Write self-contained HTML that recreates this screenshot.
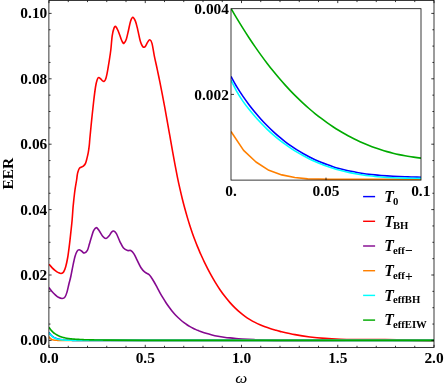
<!DOCTYPE html>
<html><head><meta charset="utf-8"><title>EER plot</title>
<style>html,body{margin:0;padding:0;background:#fff;}body{width:444px;height:387px;overflow:hidden;}svg{display:block;}text{font-family:"Liberation Serif",serif;font-weight:bold;fill:#000;}.t{font-size:15.4px;}.s{font-size:10.7px;}.T{font-size:15.7px;font-style:italic;}.o{font-size:13.6px;}.i{font-style:italic;}</style></head><body>
<svg width="444" height="387" viewBox="0 0 444 387">
<rect x="0" y="0" width="444" height="387" fill="#ffffff"/>
<defs><clipPath id="cm"><rect x="48.90" y="0.50" width="385.10" height="346.90"/></clipPath>
<clipPath id="ci"><rect x="231.00" y="8.70" width="190.00" height="171.70"/></clipPath><filter id="gs" x="0" y="0" width="444" height="387" filterUnits="userSpaceOnUse" color-interpolation-filters="sRGB"><feColorMatrix type="saturate" values="0"/></filter></defs>
<g fill="none" stroke-width="1.60" stroke-linejoin="round" clip-path="url(#cm)">
<path d="M49.00 332.55 C49.25 332.88 49.99 333.96 50.48 334.54 C50.97 335.12 51.47 335.59 51.96 336.03 C52.46 336.46 52.95 336.81 53.44 337.13 C53.94 337.46 54.43 337.72 54.92 337.96 C55.42 338.20 55.91 338.40 56.40 338.58 C56.90 338.76 57.39 338.91 57.88 339.04 C58.38 339.18 58.87 339.29 59.37 339.39 C59.86 339.49 60.35 339.57 60.85 339.64 C61.34 339.72 61.83 339.78 62.33 339.83 C62.82 339.89 63.31 339.94 63.81 339.98 C64.30 340.02 64.79 340.05 65.29 340.08 C65.78 340.12 66.28 340.14 66.77 340.16 C67.26 340.19 67.76 340.21 68.25 340.22 C68.74 340.24 69.24 340.26 69.73 340.27 C70.22 340.28 70.72 340.29 71.21 340.30 C71.71 340.31 72.20 340.32 72.69 340.33 C73.19 340.33 73.68 340.34 74.17 340.35 C74.67 340.35 75.16 340.36 75.65 340.36 C76.15 340.36 76.64 340.37 77.13 340.37 C77.63 340.37 78.12 340.38 78.62 340.38 C79.11 340.38 79.60 340.38 80.10 340.38 C80.59 340.38 81.08 340.39 81.58 340.39 C82.07 340.39 82.56 340.39 83.06 340.39 C83.55 340.39 84.04 340.39 84.54 340.39 C85.03 340.39 85.53 340.39 86.02 340.39 C86.51 340.40 87.01 340.40 87.50 340.40 C87.99 340.40 88.49 340.40 88.98 340.40 C89.47 340.40 89.97 340.40 90.46 340.40 C90.96 340.40 91.45 340.40 91.94 340.40 C92.44 340.40 92.93 340.40 93.42 340.40 C93.92 340.40 94.41 340.40 94.90 340.40 C95.40 340.40 95.89 340.40 96.38 340.40 C96.88 340.40 97.37 340.40 97.87 340.40 C98.36 340.40 98.85 340.40 99.35 340.40 C99.84 340.40 100.33 340.40 100.83 340.40 C101.32 340.40 101.81 340.40 102.31 340.40 C102.80 340.40 103.29 340.40 103.79 340.40 C104.28 340.40 104.78 340.40 105.27 340.40 C105.76 340.40 100.09 340.40 106.75 340.40 C113.41 340.40 122.79 340.40 145.25 340.40 C167.71 340.40 193.38 340.40 241.50 340.40 C289.62 340.40 401.92 340.40 434.00 340.40" stroke="#0000ff"/>
<path d="M49.00 264.20 C49.53 264.82 51.15 266.83 52.20 267.90 C53.25 268.97 54.27 269.82 55.30 270.60 C56.33 271.38 57.43 272.12 58.40 272.60 C59.37 273.08 60.23 273.60 61.10 273.50 C61.97 273.40 62.83 273.12 63.60 272.00 C64.37 270.88 65.02 269.22 65.70 266.80 C66.38 264.38 67.08 261.12 67.70 257.50 C68.32 253.88 68.88 249.23 69.40 245.10 C69.92 240.97 70.35 236.85 70.80 232.70 C71.25 228.55 71.73 224.32 72.10 220.20 C72.47 216.08 72.75 211.05 73.00 208.00 C73.25 204.95 73.37 204.15 73.60 201.90 C73.83 199.65 74.13 196.75 74.40 194.50 C74.67 192.25 74.83 190.82 75.20 188.40 C75.57 185.98 76.27 182.15 76.60 180.00 C76.93 177.85 76.98 176.83 77.20 175.50 C77.42 174.17 77.52 173.23 77.90 172.00 C78.28 170.77 78.90 168.92 79.50 168.10 C80.10 167.28 80.82 167.48 81.50 167.10 C82.18 166.72 82.93 166.43 83.60 165.80 C84.27 165.17 84.95 164.50 85.50 163.30 C86.05 162.10 86.43 160.42 86.90 158.60 C87.37 156.78 87.90 154.63 88.30 152.40 C88.70 150.17 89.03 147.60 89.30 145.20 C89.57 142.80 89.50 142.27 89.90 138.00 C90.30 133.73 91.07 125.77 91.70 119.60 C92.33 113.43 93.05 106.52 93.70 101.00 C94.35 95.48 95.03 90.02 95.60 86.50 C96.17 82.98 96.58 81.40 97.10 79.90 C97.62 78.40 98.07 77.62 98.70 77.50 C99.33 77.38 100.27 78.65 100.90 79.20 C101.53 79.75 102.00 80.43 102.50 80.80 C103.00 81.17 103.42 81.57 103.90 81.40 C104.38 81.23 104.88 81.07 105.40 79.80 C105.92 78.53 106.35 77.05 107.00 73.80 C107.65 70.55 108.67 64.27 109.30 60.30 C109.93 56.33 110.32 54.08 110.80 50.00 C111.28 45.92 111.67 39.45 112.20 35.80 C112.73 32.15 113.42 29.65 114.00 28.10 C114.58 26.55 115.02 26.07 115.70 26.50 C116.38 26.93 117.27 28.80 118.10 30.70 C118.93 32.60 120.02 36.10 120.70 37.90 C121.38 39.70 121.65 40.60 122.20 41.50 C122.75 42.40 123.30 43.73 124.00 43.30 C124.70 42.87 125.67 41.00 126.40 38.90 C127.13 36.80 127.72 33.62 128.40 30.70 C129.08 27.78 129.77 23.62 130.50 21.40 C131.23 19.18 131.97 17.40 132.80 17.40 C133.63 17.40 134.68 19.37 135.50 21.40 C136.32 23.43 136.95 26.50 137.70 29.60 C138.45 32.70 139.37 37.53 140.00 40.00 C140.63 42.47 141.07 43.33 141.50 44.40 C141.93 45.47 142.18 45.92 142.60 46.40 C143.02 46.88 143.50 47.37 144.00 47.30 C144.50 47.23 145.02 46.82 145.60 46.00 C146.18 45.18 146.80 43.43 147.50 42.40 C148.20 41.37 149.05 39.63 149.80 39.80 C150.55 39.97 151.25 40.73 152.00 43.40 C152.75 46.07 153.40 51.36 154.30 55.80 C155.20 60.24 156.47 65.67 157.40 70.07 C158.33 74.47 159.07 78.08 159.90 82.21 C160.73 86.35 161.57 90.53 162.40 94.86 C163.23 99.19 164.07 103.66 164.90 108.20 C165.73 112.73 166.57 117.39 167.40 122.06 C168.23 126.73 169.07 131.50 169.90 136.23 C170.73 140.96 171.57 145.77 172.40 150.44 C173.23 155.10 174.07 159.77 174.90 164.21 C175.73 168.64 176.57 172.97 177.40 177.05 C178.23 181.13 179.07 184.99 179.90 188.68 C180.73 192.37 181.57 195.86 182.40 199.21 C183.23 202.56 184.07 205.74 184.90 208.81 C185.73 211.87 186.57 214.79 187.40 217.61 C188.23 220.43 189.07 223.11 189.90 225.70 C190.73 228.29 191.57 230.76 192.40 233.15 C193.23 235.54 194.07 237.82 194.90 240.02 C195.73 242.23 196.57 244.34 197.40 246.40 C198.23 248.45 199.47 251.31 199.90 252.34 C200.33 253.36 199.15 250.72 200.00 252.56 C200.85 254.41 203.33 259.97 205.00 263.40 C206.67 266.83 208.33 270.07 210.00 273.16 C211.67 276.24 213.33 279.15 215.00 281.91 C216.67 284.67 218.33 287.26 220.00 289.71 C221.67 292.15 223.33 294.44 225.00 296.60 C226.67 298.75 228.33 300.75 230.00 302.63 C231.67 304.51 233.33 306.25 235.00 307.88 C236.67 309.51 238.33 311.00 240.00 312.40 C241.67 313.81 243.33 315.09 245.00 316.29 C246.67 317.48 248.33 318.57 250.00 319.59 C251.67 320.61 253.33 321.53 255.00 322.39 C256.67 323.26 258.33 324.04 260.00 324.77 C261.67 325.50 263.33 326.15 265.00 326.77 C266.67 327.40 268.33 327.96 270.00 328.49 C271.67 329.03 273.33 329.52 275.00 330.00 C276.67 330.47 276.67 330.57 280.00 331.35 C283.33 332.12 290.00 333.71 295.00 334.64 C300.00 335.57 305.00 336.31 310.00 336.94 C315.00 337.57 320.00 338.03 325.00 338.42 C330.00 338.81 335.00 339.05 340.00 339.25 C345.00 339.45 350.00 339.54 355.00 339.61 C360.00 339.68 365.00 339.67 370.00 339.67 C375.00 339.67 374.33 339.45 385.00 339.61 C395.67 339.77 425.83 340.47 434.00 340.64" stroke="#ff0000"/>
<path d="M49.00 287.60 C49.53 288.28 51.15 290.50 52.20 291.70 C53.25 292.90 54.27 293.87 55.30 294.80 C56.33 295.73 57.25 296.68 58.40 297.30 C59.55 297.92 61.08 298.57 62.20 298.50 C63.32 298.43 64.28 298.03 65.10 296.90 C65.92 295.77 66.48 293.77 67.10 291.70 C67.72 289.63 68.18 287.03 68.80 284.50 C69.42 281.97 70.12 279.62 70.80 276.50 C71.48 273.38 72.20 269.13 72.90 265.80 C73.60 262.47 74.32 258.92 75.00 256.50 C75.68 254.08 76.32 252.43 77.00 251.30 C77.68 250.17 78.30 249.70 79.10 249.70 C79.90 249.70 80.93 250.75 81.80 251.30 C82.67 251.85 83.37 253.17 84.30 253.00 C85.23 252.83 86.55 251.78 87.40 250.30 C88.25 248.82 88.72 246.33 89.40 244.10 C90.08 241.87 90.80 239.13 91.50 236.90 C92.20 234.67 92.80 232.25 93.60 230.70 C94.40 229.15 95.37 227.60 96.30 227.60 C97.23 227.60 98.10 229.22 99.20 230.70 C100.30 232.18 101.77 235.20 102.90 236.50 C104.03 237.80 104.97 238.62 106.00 238.50 C107.03 238.38 108.17 236.87 109.10 235.80 C110.03 234.73 110.83 232.88 111.60 232.10 C112.37 231.32 112.90 230.83 113.70 231.10 C114.50 231.37 115.35 231.92 116.40 233.70 C117.45 235.48 118.82 239.42 120.00 241.80 C121.18 244.18 122.23 246.55 123.50 248.00 C124.77 249.45 126.40 250.08 127.60 250.50 C128.80 250.92 129.67 249.98 130.70 250.50 C131.73 251.02 132.73 252.00 133.80 253.60 C134.87 255.20 135.90 257.73 137.10 260.10 C138.30 262.47 139.70 265.78 141.00 267.80 C142.30 269.82 143.60 271.12 144.90 272.20 C146.20 273.28 147.78 273.51 148.80 274.30 C149.82 275.09 150.13 275.69 151.00 276.93 C151.87 278.17 153.00 280.01 154.00 281.73 C155.00 283.45 156.00 285.40 157.00 287.24 C158.00 289.08 159.00 291.00 160.00 292.79 C161.00 294.57 162.00 296.30 163.00 297.95 C164.00 299.60 165.00 301.18 166.00 302.70 C167.00 304.21 168.00 305.65 169.00 307.03 C170.00 308.40 171.00 309.70 172.00 310.93 C173.00 312.17 174.00 313.33 175.00 314.42 C176.00 315.52 177.00 316.55 178.00 317.52 C179.00 318.49 180.00 319.39 181.00 320.25 C182.00 321.10 183.00 321.90 184.00 322.65 C185.00 323.40 186.00 324.10 187.00 324.76 C188.00 325.42 189.00 326.03 190.00 326.60 C191.00 327.18 192.00 327.71 193.00 328.22 C194.00 328.72 195.00 329.19 196.00 329.63 C197.00 330.08 198.33 330.61 199.00 330.89 C199.67 331.16 198.83 330.87 200.00 331.28 C201.17 331.68 204.00 332.71 206.00 333.33 C208.00 333.94 210.00 334.47 212.00 334.95 C214.00 335.44 216.00 335.85 218.00 336.22 C220.00 336.59 222.00 336.91 224.00 337.19 C226.00 337.47 228.00 337.71 230.00 337.92 C232.00 338.14 234.00 338.31 236.00 338.48 C238.00 338.65 240.00 338.79 242.00 338.93 C244.00 339.07 246.00 339.19 248.00 339.31 C250.00 339.43 252.00 339.54 254.00 339.65 C256.00 339.75 256.50 339.80 260.00 339.92 C263.50 340.05 270.00 340.32 275.00 340.40 C280.00 340.48 285.83 340.40 290.00 340.40 C294.17 340.40 290.00 340.43 300.00 340.40 C310.00 340.37 327.67 340.20 350.00 340.20 C372.33 340.20 420.00 340.37 434.00 340.40" stroke="#850a90"/>
<path d="M49.00 336.80 C49.25 337.11 49.99 338.21 50.48 338.67 C50.97 339.13 51.47 339.34 51.96 339.57 C52.46 339.79 52.95 339.89 53.44 340.00 C53.94 340.11 54.43 340.16 54.92 340.21 C55.42 340.26 55.91 340.28 56.40 340.31 C56.90 340.33 57.39 340.34 57.88 340.36 C58.38 340.37 58.87 340.37 59.37 340.38 C59.86 340.38 60.35 340.39 60.85 340.39 C61.34 340.39 61.83 340.39 62.33 340.39 C62.82 340.40 63.31 340.40 63.81 340.40 C64.30 340.40 64.79 340.40 65.29 340.40 C65.78 340.40 66.28 340.40 66.77 340.40 C67.26 340.40 67.76 340.40 68.25 340.40 C68.74 340.40 69.24 340.40 69.73 340.40 C70.22 340.40 70.72 340.40 71.21 340.40 C71.71 340.40 72.20 340.40 72.69 340.40 C73.19 340.40 73.68 340.40 74.17 340.40 C74.67 340.40 75.16 340.40 75.65 340.40 C76.15 340.40 76.64 340.40 77.13 340.40 C77.63 340.40 78.12 340.40 78.62 340.40 C79.11 340.40 79.60 340.40 80.10 340.40 C80.59 340.40 81.08 340.40 81.58 340.40 C82.07 340.40 82.56 340.40 83.06 340.40 C83.55 340.40 84.04 340.40 84.54 340.40 C85.03 340.40 85.53 340.40 86.02 340.40 C86.51 340.40 87.01 340.40 87.50 340.40 C87.99 340.40 88.49 340.40 88.98 340.40 C89.47 340.40 89.97 340.40 90.46 340.40 C90.96 340.40 91.45 340.40 91.94 340.40 C92.44 340.40 92.93 340.40 93.42 340.40 C93.92 340.40 94.41 340.40 94.90 340.40 C95.40 340.40 95.89 340.40 96.38 340.40 C96.88 340.40 97.37 340.40 97.87 340.40 C98.36 340.40 98.85 340.40 99.35 340.40 C99.84 340.40 100.33 340.40 100.83 340.40 C101.32 340.40 101.81 340.40 102.31 340.40 C102.80 340.40 103.29 340.40 103.79 340.40 C104.28 340.40 104.78 340.40 105.27 340.40 C105.76 340.40 100.09 340.40 106.75 340.40 C113.41 340.40 122.79 340.40 145.25 340.40 C167.71 340.40 193.38 340.40 241.50 340.40 C289.62 340.40 401.92 340.40 434.00 340.40" stroke="#ff8000"/>
<path d="M49.00 332.81 C49.25 333.15 49.99 334.24 50.48 334.82 C50.97 335.40 51.47 335.87 51.96 336.30 C52.46 336.73 52.95 337.07 53.44 337.39 C53.94 337.70 54.43 337.95 54.92 338.18 C55.42 338.42 55.91 338.60 56.40 338.77 C56.90 338.94 57.39 339.08 57.88 339.20 C58.38 339.33 58.87 339.43 59.37 339.52 C59.86 339.61 60.35 339.69 60.85 339.75 C61.34 339.82 61.83 339.87 62.33 339.92 C62.82 339.97 63.31 340.01 63.81 340.05 C64.30 340.09 64.79 340.12 65.29 340.14 C65.78 340.17 66.28 340.19 66.77 340.21 C67.26 340.23 67.76 340.25 68.25 340.26 C68.74 340.28 69.24 340.29 69.73 340.30 C70.22 340.31 70.72 340.32 71.21 340.32 C71.71 340.33 72.20 340.34 72.69 340.34 C73.19 340.35 73.68 340.36 74.17 340.36 C74.67 340.36 75.16 340.37 75.65 340.37 C76.15 340.37 76.64 340.38 77.13 340.38 C77.63 340.38 78.12 340.38 78.62 340.38 C79.11 340.39 79.60 340.39 80.10 340.39 C80.59 340.39 81.08 340.39 81.58 340.39 C82.07 340.39 82.56 340.39 83.06 340.39 C83.55 340.39 84.04 340.39 84.54 340.40 C85.03 340.40 85.53 340.40 86.02 340.40 C86.51 340.40 87.01 340.40 87.50 340.40 C87.99 340.40 88.49 340.40 88.98 340.40 C89.47 340.40 89.97 340.40 90.46 340.40 C90.96 340.40 91.45 340.40 91.94 340.40 C92.44 340.40 92.93 340.40 93.42 340.40 C93.92 340.40 94.41 340.40 94.90 340.40 C95.40 340.40 95.89 340.40 96.38 340.40 C96.88 340.40 97.37 340.40 97.87 340.40 C98.36 340.40 98.85 340.40 99.35 340.40 C99.84 340.40 100.33 340.40 100.83 340.40 C101.32 340.40 101.81 340.40 102.31 340.40 C102.80 340.40 103.29 340.40 103.79 340.40 C104.28 340.40 104.78 340.40 105.27 340.40 C105.76 340.40 100.09 340.40 106.75 340.40 C113.41 340.40 122.79 340.40 145.25 340.40 C167.71 340.40 193.38 340.40 241.50 340.40 C289.62 340.40 401.92 340.40 434.00 340.40" stroke="#00ffff"/>
<path d="M49.00 327.32 C49.25 327.67 49.99 328.76 50.48 329.40 C50.97 330.03 51.47 330.59 51.96 331.11 C52.46 331.63 52.95 332.10 53.44 332.53 C53.94 332.96 54.43 333.35 54.92 333.71 C55.42 334.06 55.91 334.38 56.40 334.68 C56.90 334.98 57.39 335.24 57.88 335.49 C58.38 335.74 58.87 335.96 59.37 336.17 C59.86 336.38 60.35 336.56 60.85 336.73 C61.34 336.91 61.83 337.06 62.33 337.21 C62.82 337.35 63.31 337.48 63.81 337.60 C64.30 337.73 64.79 337.84 65.29 337.94 C65.78 338.04 66.28 338.13 66.77 338.22 C67.26 338.31 67.76 338.39 68.25 338.46 C68.74 338.54 69.24 338.60 69.73 338.67 C70.22 338.73 70.72 338.79 71.21 338.84 C71.71 338.90 72.20 338.95 72.69 338.99 C73.19 339.04 73.68 339.08 74.17 339.12 C74.67 339.16 75.16 339.20 75.65 339.24 C76.15 339.27 76.64 339.30 77.13 339.34 C77.63 339.37 78.12 339.40 78.62 339.42 C79.11 339.45 79.60 339.48 80.10 339.50 C80.59 339.52 81.08 339.55 81.58 339.57 C82.07 339.59 82.56 339.61 83.06 339.63 C83.55 339.65 84.04 339.67 84.54 339.68 C85.03 339.70 85.53 339.72 86.02 339.73 C86.51 339.75 87.01 339.76 87.50 339.78 C87.99 339.79 88.49 339.80 88.98 339.82 C89.47 339.83 89.97 339.84 90.46 339.85 C90.96 339.87 91.45 339.88 91.94 339.89 C92.44 339.90 92.93 339.91 93.42 339.92 C93.92 339.93 94.41 339.94 94.90 339.95 C95.40 339.96 95.89 339.96 96.38 339.97 C96.88 339.98 97.37 339.99 97.87 340.00 C98.36 340.01 98.85 340.01 99.35 340.02 C99.84 340.03 100.33 340.04 100.83 340.04 C101.32 340.05 101.81 340.06 102.31 340.06 C102.80 340.07 103.29 340.08 103.79 340.08 C104.28 340.09 104.78 340.09 105.27 340.10 C105.76 340.10 100.09 340.08 106.75 340.12 C113.41 340.15 122.79 340.28 145.25 340.33 C167.71 340.38 193.38 340.39 241.50 340.40 C289.62 340.41 401.92 340.40 434.00 340.40" stroke="#00aa00"/>
</g>
<g stroke="#000" stroke-width="0.78" fill="none">
<rect x="48.90" y="0.50" width="385.10" height="346.90"/>
<path d="M49.00 347.40V344.80M49.00 0.50V3.10M68.25 347.40V345.80M68.25 0.50V2.10M87.50 347.40V345.80M87.50 0.50V2.10M106.75 347.40V345.80M106.75 0.50V2.10M126.00 347.40V345.80M126.00 0.50V2.10M145.25 347.40V344.80M145.25 0.50V3.10M164.50 347.40V345.80M164.50 0.50V2.10M183.75 347.40V345.80M183.75 0.50V2.10M203.00 347.40V345.80M203.00 0.50V2.10M222.25 347.40V345.80M222.25 0.50V2.10M241.50 347.40V344.80M241.50 0.50V3.10M260.75 347.40V345.80M260.75 0.50V2.10M280.00 347.40V345.80M280.00 0.50V2.10M299.25 347.40V345.80M299.25 0.50V2.10M318.50 347.40V345.80M318.50 0.50V2.10M337.75 347.40V344.80M337.75 0.50V3.10M357.00 347.40V345.80M357.00 0.50V2.10M376.25 347.40V345.80M376.25 0.50V2.10M395.50 347.40V345.80M395.50 0.50V2.10M414.75 347.40V345.80M414.75 0.50V2.10M434.00 347.40V344.80M434.00 0.50V3.10M48.90 340.40H51.60M434.00 340.40H431.30M48.90 324.05H50.50M434.00 324.05H432.40M48.90 307.70H50.50M434.00 307.70H432.40M48.90 291.35H50.50M434.00 291.35H432.40M48.90 275.00H51.60M434.00 275.00H431.30M48.90 258.65H50.50M434.00 258.65H432.40M48.90 242.30H50.50M434.00 242.30H432.40M48.90 225.95H50.50M434.00 225.95H432.40M48.90 209.60H51.60M434.00 209.60H431.30M48.90 193.25H50.50M434.00 193.25H432.40M48.90 176.90H50.50M434.00 176.90H432.40M48.90 160.55H50.50M434.00 160.55H432.40M48.90 144.20H51.60M434.00 144.20H431.30M48.90 127.85H50.50M434.00 127.85H432.40M48.90 111.50H50.50M434.00 111.50H432.40M48.90 95.15H50.50M434.00 95.15H432.40M48.90 78.80H51.60M434.00 78.80H431.30M48.90 62.45H50.50M434.00 62.45H432.40M48.90 46.10H50.50M434.00 46.10H432.40M48.90 29.75H50.50M434.00 29.75H432.40M48.90 13.40H51.60M434.00 13.40H431.30"/>
</g>
<rect x="231.00" y="8.70" width="190.00" height="171.40" fill="#fff"/>
<g fill="none" stroke-width="1.60" stroke-linejoin="round" clip-path="url(#ci)">
<path d="M231.00 76.47 C232.00 78.25 235.00 83.83 237.00 87.15 C239.00 90.47 241.00 93.47 243.00 96.39 C245.00 99.31 247.00 102.04 249.00 104.69 C251.00 107.33 253.00 109.84 255.00 112.25 C257.00 114.66 259.00 116.95 261.00 119.17 C263.00 121.38 265.00 123.49 267.00 125.51 C269.00 127.54 271.00 129.48 273.00 131.34 C275.00 133.20 277.00 134.97 279.00 136.67 C281.00 138.36 283.00 139.98 285.00 141.52 C287.00 143.07 289.00 144.54 291.00 145.94 C293.00 147.34 295.00 148.67 297.00 149.94 C299.00 151.20 301.00 152.40 303.00 153.54 C305.00 154.69 307.00 155.76 309.00 156.79 C311.00 157.81 313.00 158.78 315.00 159.70 C317.00 160.62 319.00 161.48 321.00 162.30 C323.00 163.12 325.00 163.88 327.00 164.61 C329.00 165.33 331.00 166.01 333.00 166.65 C335.00 167.29 337.00 167.88 339.00 168.44 C341.00 168.99 343.00 169.51 345.00 169.99 C347.00 170.47 349.00 170.92 351.00 171.33 C353.00 171.74 355.00 172.12 357.00 172.47 C359.00 172.82 361.00 173.14 363.00 173.44 C365.00 173.73 367.00 174.00 369.00 174.24 C371.00 174.49 373.00 174.70 375.00 174.91 C377.00 175.11 379.00 175.28 381.00 175.45 C383.00 175.61 385.00 175.75 387.00 175.89 C389.00 176.02 391.00 176.13 393.00 176.24 C395.00 176.34 397.00 176.44 399.00 176.52 C401.00 176.61 403.00 176.69 405.00 176.76 C407.00 176.83 409.00 176.90 411.00 176.97 C413.00 177.03 415.33 177.11 417.00 177.16 C418.67 177.22 420.33 177.27 421.00 177.30" stroke="#0000ff"/>
<path d="M231.00 131.50 L243.60 150.40 L256.00 162.00 L268.90 170.30 L281.80 174.90 L294.80 177.50 L307.70 178.90 L330.00 179.20 L421.00 179.30" stroke="#ff8000"/>
<path d="M231.00 80.15 C232.00 82.11 235.00 88.36 237.00 91.89 C239.00 95.43 241.00 98.45 243.00 101.36 C245.00 104.26 247.00 106.80 249.00 109.31 C251.00 111.83 253.00 114.18 255.00 116.47 C257.00 118.76 259.00 120.94 261.00 123.04 C263.00 125.14 265.00 127.15 267.00 129.07 C269.00 131.00 271.00 132.83 273.00 134.59 C275.00 136.35 277.00 138.02 279.00 139.62 C281.00 141.23 283.00 142.75 285.00 144.21 C287.00 145.67 289.00 147.05 291.00 148.37 C293.00 149.69 295.00 150.95 297.00 152.15 C299.00 153.34 301.00 154.48 303.00 155.56 C305.00 156.65 307.00 157.67 309.00 158.66 C311.00 159.64 313.00 160.57 315.00 161.45 C317.00 162.34 319.00 163.17 321.00 163.97 C323.00 164.76 325.00 165.51 327.00 166.22 C329.00 166.93 331.00 167.59 333.00 168.22 C335.00 168.85 337.00 169.44 339.00 169.99 C341.00 170.54 343.00 171.05 345.00 171.53 C347.00 172.02 349.00 172.46 351.00 172.88 C353.00 173.29 355.00 173.67 357.00 174.03 C359.00 174.38 361.00 174.70 363.00 175.00 C365.00 175.30 367.00 175.57 369.00 175.82 C371.00 176.06 373.00 176.28 375.00 176.48 C377.00 176.68 379.00 176.86 381.00 177.02 C383.00 177.18 385.00 177.32 387.00 177.44 C389.00 177.56 391.00 177.67 393.00 177.76 C395.00 177.85 397.00 177.92 399.00 177.99 C401.00 178.05 403.00 178.10 405.00 178.15 C407.00 178.19 409.00 178.22 411.00 178.25 C413.00 178.27 415.33 178.29 417.00 178.31 C418.67 178.32 420.33 178.32 421.00 178.33" stroke="#00ffff"/>
<path d="M231.00 8.49 C232.00 10.18 235.00 15.31 237.00 18.63 C239.00 21.94 241.00 25.19 243.00 28.37 C245.00 31.55 247.00 34.67 249.00 37.71 C251.00 40.75 253.00 43.73 255.00 46.63 C257.00 49.54 259.00 52.37 261.00 55.13 C263.00 57.89 265.00 60.58 267.00 63.20 C269.00 65.82 271.00 68.37 273.00 70.85 C275.00 73.33 277.00 75.74 279.00 78.08 C281.00 80.43 283.00 82.70 285.00 84.91 C287.00 87.13 289.00 89.27 291.00 91.36 C293.00 93.44 295.00 95.46 297.00 97.42 C299.00 99.38 301.00 101.28 303.00 103.13 C305.00 104.97 307.00 106.76 309.00 108.49 C311.00 110.22 313.00 111.90 315.00 113.52 C317.00 115.14 319.00 116.71 321.00 118.23 C323.00 119.75 325.00 121.21 327.00 122.63 C329.00 124.05 331.00 125.41 333.00 126.73 C335.00 128.05 337.00 129.32 339.00 130.54 C341.00 131.77 343.00 132.94 345.00 134.07 C347.00 135.20 349.00 136.29 351.00 137.33 C353.00 138.37 355.00 139.36 357.00 140.32 C359.00 141.27 361.00 142.18 363.00 143.05 C365.00 143.92 367.00 144.75 369.00 145.54 C371.00 146.33 373.00 147.08 375.00 147.79 C377.00 148.50 379.00 149.18 381.00 149.81 C383.00 150.45 385.00 151.05 387.00 151.62 C389.00 152.18 391.00 152.71 393.00 153.21 C395.00 153.70 397.00 154.16 399.00 154.60 C401.00 155.03 403.00 155.42 405.00 155.79 C407.00 156.16 409.00 156.49 411.00 156.80 C413.00 157.11 415.33 157.42 417.00 157.64 C418.67 157.85 420.33 158.03 421.00 158.10" stroke="#00aa00"/>
</g>
<g stroke="#000" stroke-width="0.78" fill="none">
<rect x="231.00" y="8.70" width="190.00" height="171.40"/>
<path d="M326.00 180.10V177.60 M231.00 94.40H234.00"/>
</g>
<g filter="url(#gs)">
<text class="t" x="47.3" y="345.40" text-anchor="end">0.00</text>
<text class="t" x="47.3" y="280.00" text-anchor="end">0.02</text>
<text class="t" x="47.3" y="214.60" text-anchor="end">0.04</text>
<text class="t" x="47.3" y="149.20" text-anchor="end">0.06</text>
<text class="t" x="47.3" y="83.80" text-anchor="end">0.08</text>
<text class="t" x="47.3" y="18.40" text-anchor="end">0.10</text>
<text class="t" x="49.00" y="363" text-anchor="middle">0.0</text>
<text class="t" x="145.25" y="363" text-anchor="middle">0.5</text>
<text class="t" x="241.50" y="363" text-anchor="middle">1.0</text>
<text class="t" x="337.75" y="363" text-anchor="middle">1.5</text>
<text class="t" x="434.00" y="363" text-anchor="middle">2.0</text>
<text class="t" x="229" y="14.2" text-anchor="end">0.004</text>
<text class="t" x="228.9" y="100" text-anchor="end">0.002</text>
<text class="t" x="231" y="195.5" text-anchor="middle">0.</text>
<text class="t" x="326" y="195.5" text-anchor="middle">0.05</text>
<text class="t" x="420.8" y="195.5" text-anchor="middle">0.1</text>
<text class="t" transform="translate(13.3 173.6) rotate(-90)" text-anchor="middle">EER</text>
<text x="0" y="0" text-anchor="middle" transform="translate(241.3 383) scale(1.1 1)" style="font-size:15.5px;font-weight:normal;font-style:italic">ω</text>
<text x="384.2" y="201.90"><tspan class="T">T</tspan><tspan class="s" dy="2.7" dx="-0.9">0</tspan></text>
<text x="384.2" y="226.60"><tspan class="T">T</tspan><tspan class="s" dy="2.7" dx="-0.9">BH</tspan></text>
<text x="384.2" y="251.30"><tspan class="T">T</tspan><tspan class="s" dy="2.7" dx="-0.9">eff<tspan class="o" dy="1.2" dx="0.3">−</tspan></tspan></text>
<text x="384.2" y="276.00"><tspan class="T">T</tspan><tspan class="s" dy="2.7" dx="-0.9">eff<tspan class="o" dy="1.8" dx="0.3">+</tspan></tspan></text>
<text x="384.2" y="300.70"><tspan class="T">T</tspan><tspan class="s" dy="2.7" dx="-0.9">effBH</tspan></text>
<text x="384.2" y="325.40"><tspan class="T">T</tspan><tspan class="s" dy="2.7" dx="-0.9">effEIW</tspan></text>
</g>
<path d="M363.1 196.60H375.1" stroke="#0000ff" stroke-width="1.45" fill="none"/>
<path d="M363.1 221.30H375.1" stroke="#ff0000" stroke-width="1.45" fill="none"/>
<path d="M363.1 246.00H375.1" stroke="#850a90" stroke-width="1.45" fill="none"/>
<path d="M363.1 270.70H375.1" stroke="#ff8000" stroke-width="1.45" fill="none"/>
<path d="M363.1 295.40H375.1" stroke="#00ffff" stroke-width="1.45" fill="none"/>
<path d="M363.1 320.10H375.1" stroke="#00aa00" stroke-width="1.45" fill="none"/>
</svg></body></html>
